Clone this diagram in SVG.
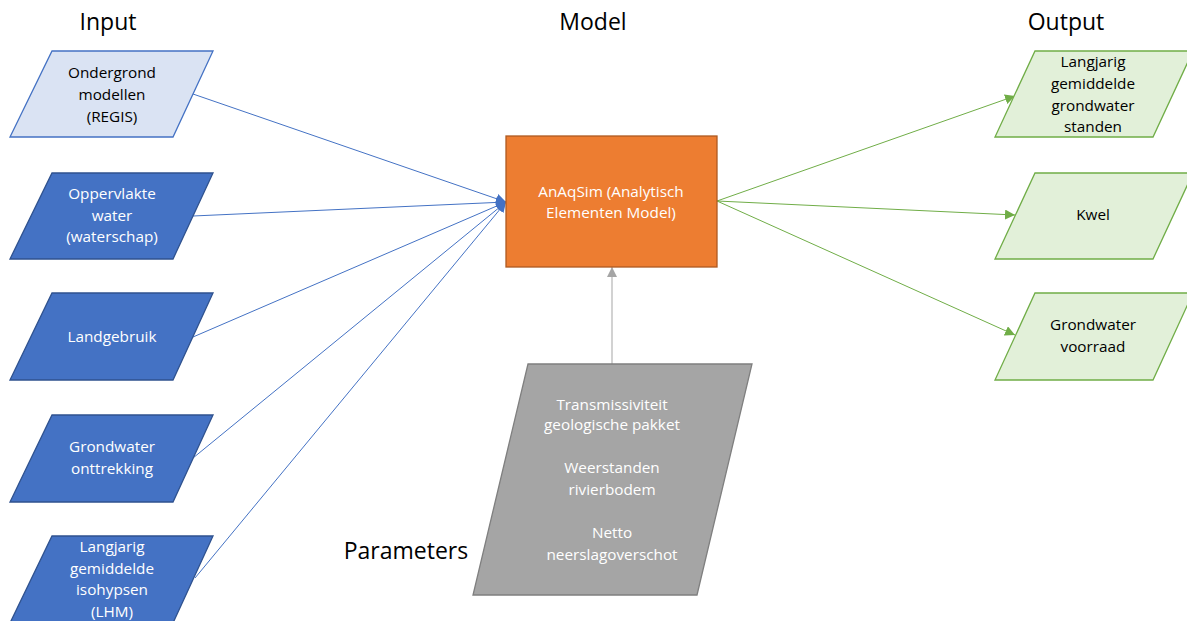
<svg xmlns="http://www.w3.org/2000/svg" width="1187" height="621" viewBox="0 0 1187 621">
<style>
text{font-family:"Open Sans","Liberation Sans",sans-serif;text-anchor:middle}
.t{font-size:15.3px}
.title{font-size:23px;fill:#000}
.dark{fill:#fff}
.light{fill:#000}
.in1{fill:#DAE3F3;stroke:#4472C4;stroke-width:1.3}
.in{fill:#4472C4;stroke:#2F528F;stroke-width:1.3}
.out{fill:#E2F0D9;stroke:#70AD47;stroke-width:1.3}
.par{fill:#A5A5A5;stroke:#7F7F7F;stroke-width:1.3}
.blue{stroke:#4472C4;stroke-width:1;fill:none;marker-end:url(#ab)}
.green{stroke:#70AD47;stroke-width:1;fill:none;marker-end:url(#ag)}
.gray{stroke:#A5A5A5;stroke-width:1;fill:none;marker-end:url(#ay)}
</style>
<defs>
<marker id="ab" viewBox="0 0 10 10" refX="10" refY="5" markerWidth="10" markerHeight="10" markerUnits="userSpaceOnUse" orient="auto"><path d="M0,0 L10,5 L0,10 z" fill="#4472C4"/></marker>
<marker id="ag" viewBox="0 0 10 10" refX="10" refY="5" markerWidth="10" markerHeight="10" markerUnits="userSpaceOnUse" orient="auto"><path d="M0,0 L10,5 L0,10 z" fill="#70AD47"/></marker>
<marker id="ay" viewBox="0 0 10 10" refX="10" refY="5" markerWidth="10" markerHeight="10" markerUnits="userSpaceOnUse" orient="auto"><path d="M0,0 L10,5 L0,10 z" fill="#A5A5A5"/></marker>
</defs>
<rect width="1187" height="621" fill="#fff"/>
<g id="titles">
<text class="title" x="108" y="30">Input</text>
<text class="title" x="593" y="30">Model</text>
<text class="title" x="1066" y="30">Output</text>
<text class="title" x="406" y="559">Parameters</text>
</g>
<g id="connectors">
<line class="blue" x1="193" y1="94" x2="506" y2="202"/>
<line class="blue" x1="193" y1="216" x2="506" y2="202"/>
<line class="blue" x1="193" y1="337" x2="506" y2="202"/>
<line class="blue" x1="193" y1="458" x2="506" y2="202"/>
<line class="blue" x1="195" y1="578" x2="506" y2="202"/>
<line class="green" x1="717" y1="201" x2="1015" y2="96"/>
<line class="green" x1="717" y1="201" x2="1015" y2="215"/>
<line class="green" x1="717" y1="201" x2="1015" y2="335"/>
<line class="gray" x1="612" y1="364" x2="612" y2="267"/>
</g>
<g id="in1">
<polygon class="in1" points="52,51 213,51 173,137 10,137"/>
<text class="t light" x="112" y="78">Ondergrond</text>
<text class="t light" x="112" y="100">modellen</text>
<text class="t light" x="112" y="122">(REGIS)</text>
</g>
<g id="in2">
<polygon class="in" points="52,173 213,173 173,259 10,259"/>
<text class="t dark" x="112" y="199">Oppervlakte</text>
<text class="t dark" x="112" y="221">water</text>
<text class="t dark" x="112" y="242">(waterschap)</text>
</g>
<g id="in3">
<polygon class="in" points="52,293 213,293 173,380 10,380"/>
<text class="t dark" x="112" y="342">Landgebruik</text>
</g>
<g id="in4">
<polygon class="in" points="52,415 213,415 173,502 10,502"/>
<text class="t dark" x="112" y="452">Grondwater</text>
<text class="t dark" x="112" y="474">onttrekking</text>
</g>
<g id="in5">
<polygon class="in" points="52,536 213,536 173,623 10,623"/>
<text class="t dark" x="112" y="552">Langjarig</text>
<text class="t dark" x="112" y="574">gemiddelde</text>
<text class="t dark" x="112" y="595">isohypsen</text>
<text class="t dark" x="112" y="617">(LHM)</text>
</g>
<g id="model">
<rect x="506" y="136" width="211" height="131" fill="#ED7D31" stroke="#AE5A21" stroke-width="1.3"/>
<text class="t dark" x="611" y="197">AnAqSim (Analytisch</text>
<text class="t dark" x="611" y="218">Elementen Model)</text>
</g>
<g id="out1">
<polygon class="out" points="1035,51 1193,51 1153,137 995,137"/>
<text class="t light" x="1093" y="67">Langjarig</text>
<text class="t light" x="1093" y="89">gemiddelde</text>
<text class="t light" x="1093" y="111">grondwater</text>
<text class="t light" x="1093" y="132">standen</text>
</g>
<g id="out2">
<polygon class="out" points="1035,173 1193,173 1153,259 995,259"/>
<text class="t light" x="1093" y="220">Kwel</text>
</g>
<g id="out3">
<polygon class="out" points="1035,293 1193,293 1153,380 995,380"/>
<text class="t light" x="1093" y="330">Grondwater</text>
<text class="t light" x="1093" y="352">voorraad</text>
</g>
<g id="params">
<polygon class="par" points="528,364 752,364 697,595 473,595"/>
<text class="t dark" x="612" y="410">Transmissiviteit</text>
<text class="t dark" x="612" y="430">geologische pakket</text>
<text class="t dark" x="612" y="473">Weerstanden</text>
<text class="t dark" x="612" y="495">rivierbodem</text>
<text class="t dark" x="612" y="538">Netto</text>
<text class="t dark" x="612" y="560">neerslagoverschot</text>
</g>
</svg>
